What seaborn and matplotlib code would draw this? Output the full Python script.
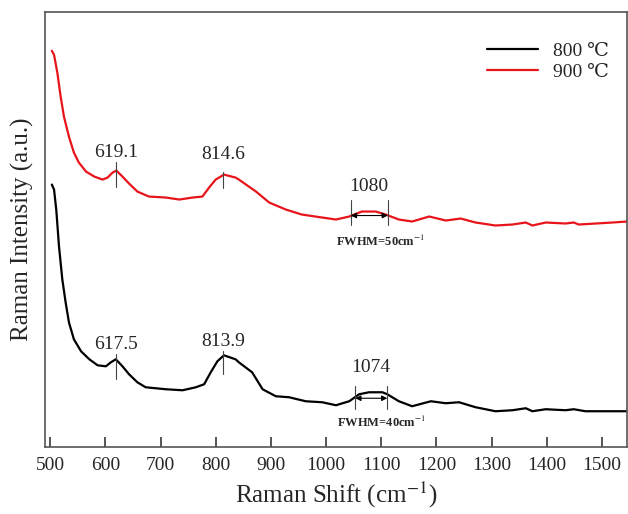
import numpy as np
import pandas as pd
import seaborn as sns
import matplotlib.pyplot as plt

# Raman spectra (intensity in arbitrary units)
shift_900 = [503, 507, 513, 519, 525, 534, 543, 552, 565, 580, 595, 604, 613, 620, 631, 643,
             658, 679, 710, 734, 758, 776, 788, 800, 815, 836, 842, 873, 897, 927, 956, 993,
             1018, 1042, 1065, 1090, 1108, 1132, 1156, 1187, 1217, 1244, 1271, 1307, 1338,
             1362, 1374, 1398, 1434, 1449, 1458, 1489, 1519, 1546]
int_900 = [397, 393, 375, 351, 331, 311, 295, 285, 276, 271, 268, 270, 275, 277, 271, 264,
           256, 251, 250, 248, 250, 251, 260, 268, 273, 270, 268, 256, 245, 238, 233, 230,
           228, 231, 236, 236, 233, 228, 226, 231, 227, 229, 225, 222, 223,
           225, 222, 225, 224, 225, 223, 224, 225, 226]

shift_800 = [503, 507, 511, 516, 522, 528, 534, 543, 556, 571, 586, 601, 610, 619, 631, 643,
             658, 673, 710, 740, 764, 779, 791, 803, 815, 836, 842, 866, 885, 909, 933, 963,
             993, 1018, 1042, 1060, 1078, 1102, 1111, 1132, 1156, 1190, 1217, 1241, 1271,
             1307, 1338, 1362, 1374, 1398, 1434, 1449, 1470, 1507, 1546]
int_800 = [263, 258, 238, 201, 168, 145, 125, 108, 96, 88, 82, 81, 85, 88, 81, 73,
           65, 60, 58, 57, 60, 63, 75, 86, 92, 88, 85, 75, 58, 51, 50, 46,
           45, 42, 46, 53, 55, 55, 53, 46, 41, 46, 44, 45, 40,
           36, 37, 39, 36, 38, 37, 38, 36, 36, 36]

series_names = ['800 \u2103', '900 \u2103']
series_colors = ['black', '#e8141b']

# peak labels: (position, label, line bottom, line top, text y)
peaks_900 = [(620, '619.1', 261, 286, 295), (813, '814.6', 260, 276, 293)]
peaks_800 = [(620, '617.5', 68, 93, 103), (813, '813.9', 73, 96, 106)]
# FWHM markers: (left, right, bottom, top, arrow y, center label, label x, label y, fwhm text, fwhm x, fwhm y)
fwhm_900 = (1045, 1112, 223, 248, 232, '1080', 1078, 261, 'FWHM=50cm$^{-1}$', 1098, 206)
fwhm_800 = (1053, 1111, 38, 61, 49, '1074', 1081, 80, 'FWHM=40cm$^{-1}$', 1100, 25)

df = pd.concat([
    pd.DataFrame({'shift': shift_800, 'intensity': int_800, 'sample': series_names[0]}),
    pd.DataFrame({'shift': shift_900, 'intensity': int_900, 'sample': series_names[1]}),
])

sns.set_style('ticks')
plt.rcParams['font.family'] = ['Liberation Serif', 'DejaVu Serif']
plt.rcParams['mathtext.fontset'] = 'stix'

fig = plt.figure(figsize=(6.28, 5.14), dpi=100)
ax = fig.add_axes([0.072, 0.13, 0.926, 0.847])

sns.lineplot(data=df, x='shift', y='intensity', hue='sample', palette=series_colors,
             hue_order=series_names, linewidth=1.6, ax=ax, sort=False)

for peaks in (peaks_900, peaks_800):
    for x, lab, y0, y1, ty in peaks:
        ax.plot([x, x], [y0, y1], color='#444444', lw=0.8)
        ax.text(x, ty, lab, ha='center', va='center', fontsize=14)

for l, r, y0, y1, ya, lab, lx, ly, ftxt, fx, fy in (fwhm_900, fwhm_800):
    ax.plot([l, l], [y0, y1], color='#444444', lw=0.8)
    ax.plot([r, r], [y0, y1], color='#444444', lw=0.8)
    ax.annotate('', xy=(l, ya), xytext=(r, ya),
                arrowprops=dict(arrowstyle='<|-|>', color='black', lw=0.8,
                                mutation_scale=8, shrinkA=0, shrinkB=0))
    ax.text(lx, ly, lab, ha='center', va='center', fontsize=14)
    ax.text(fx, fy, ftxt, ha='center', va='center', fontsize=9, fontweight='bold')

ax.set_xlim(491, 1545)
ax.set_ylim(0, 436)
ax.set_xticks(np.arange(500, 1501, 100))
ax.set_yticks([])
ax.tick_params(axis='x', direction='in', length=7, width=1.1, labelsize=14, pad=7)
for sp in ax.spines.values():
    sp.set_linewidth(1.2)
    sp.set_color('#555555')

ax.set_xlabel('Raman Shift (cm$^{-1}$)', fontsize=18)
ax.set_ylabel('Raman Intensity (a.u.)', fontsize=18, labelpad=8)

ax.legend(loc='upper right', frameon=False, fontsize=14, handlelength=2.6,
          bbox_to_anchor=(1.0, 0.97), labelspacing=0.15)

fig.savefig('out.png', dpi=100)
